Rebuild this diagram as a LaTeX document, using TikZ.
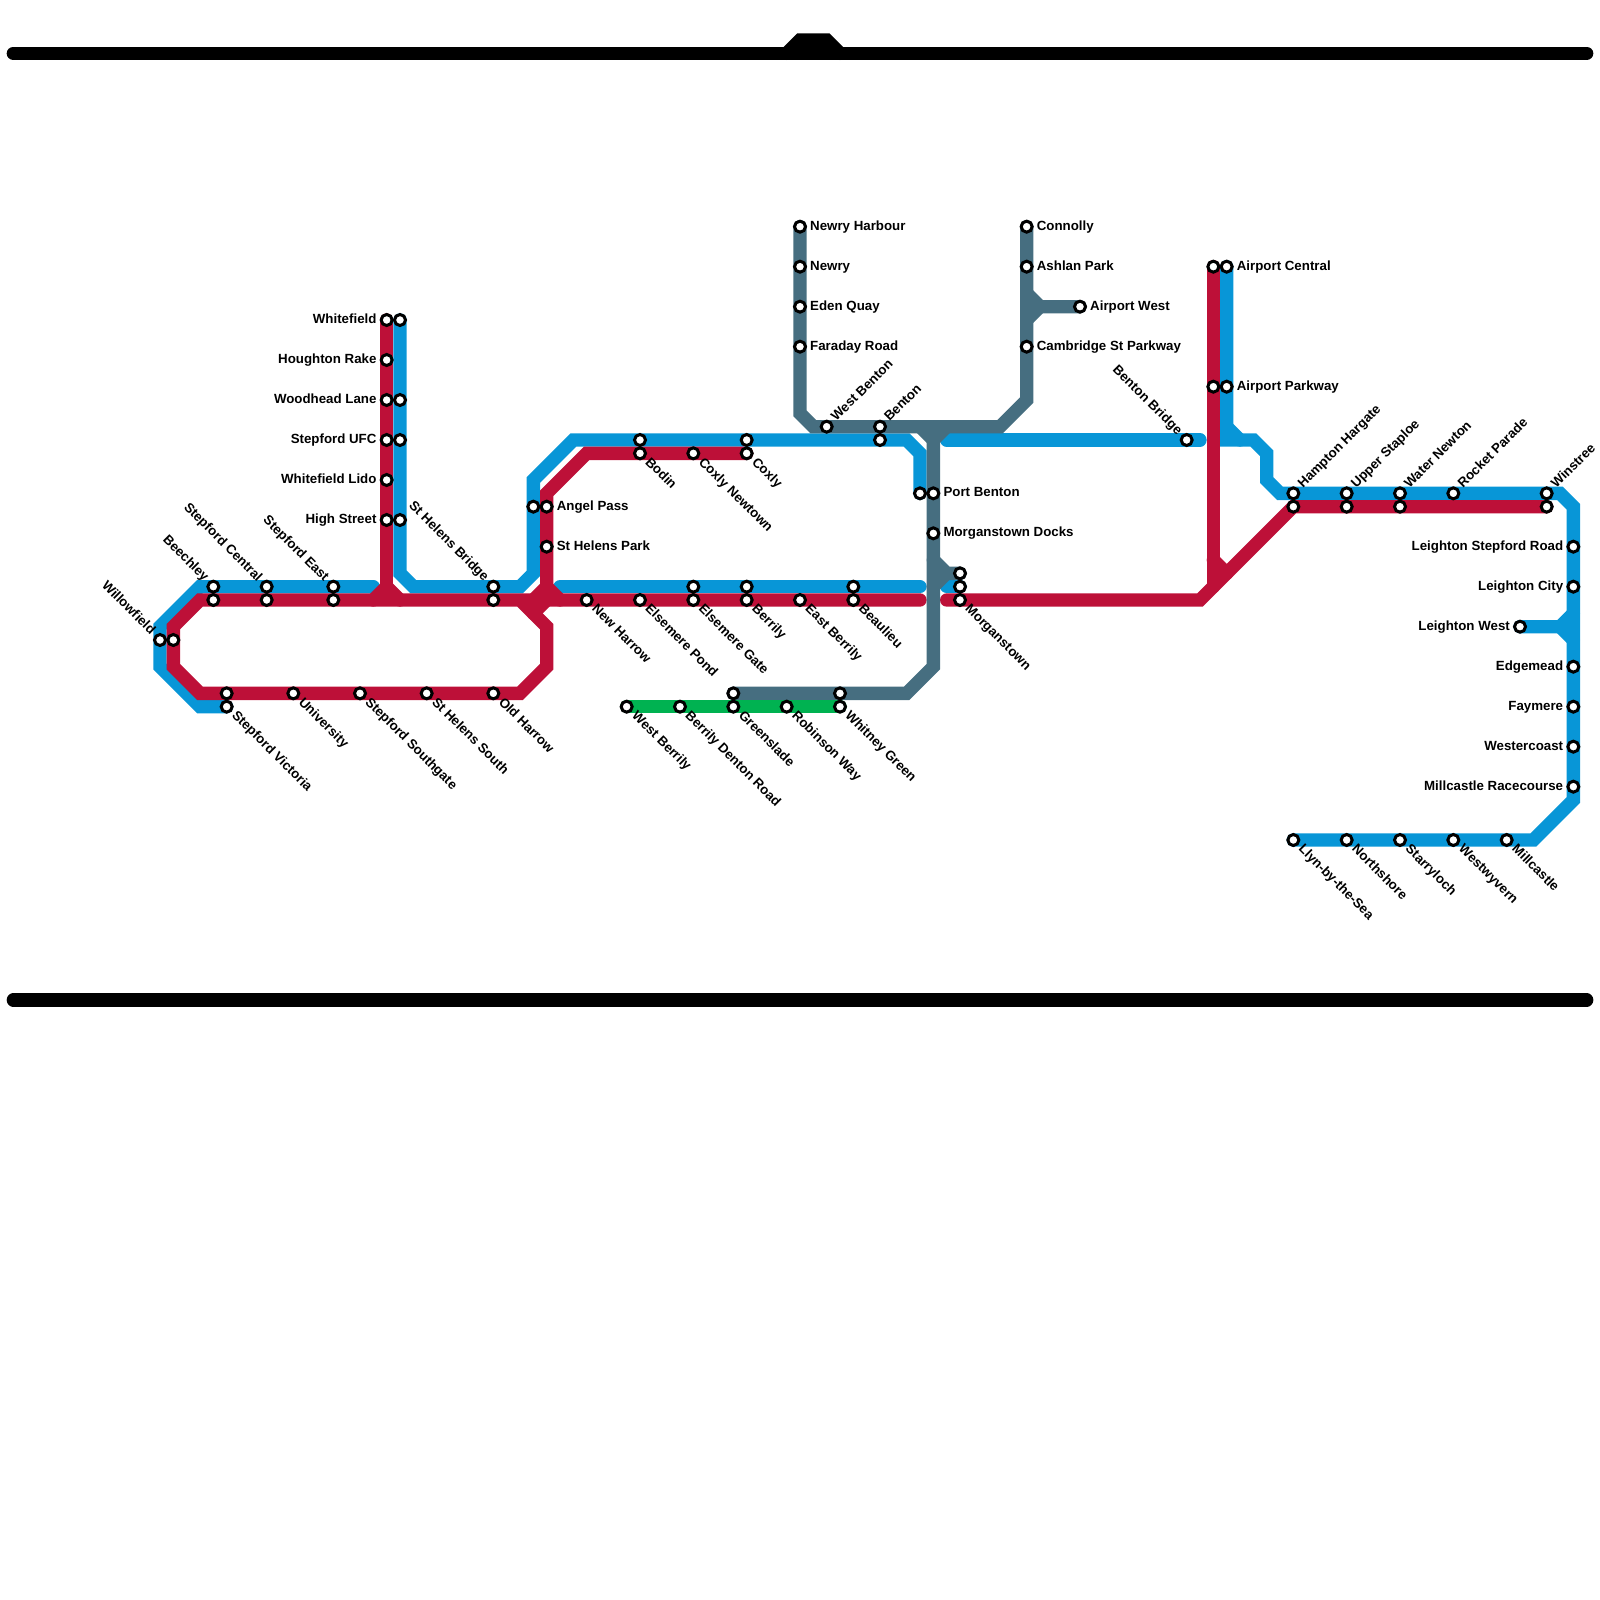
\documentclass[tikz,border=0pt]{standalone}
\usepackage{fontspec}
\setmainfont{Liberation Sans}
\usepackage{tikz}
\usetikzlibrary{backgrounds}
\definecolor{lineblue}{HTML}{0896D7}
\definecolor{linered}{HTML}{BD1038}
\definecolor{linegrey}{HTML}{466E80}
\definecolor{linegreen}{HTML}{00B251}
\tikzset{
  ln/.style={line width=13.333pt,line cap=round,line join=miter,miter limit=10},
  lnblue/.style={ln,lineblue},
  lnred/.style={ln,linered},
  lngrey/.style={ln,linegrey},
  lngreen/.style={ln,linegreen},
  lnbar/.style={ln,black},
  stn/.style={circle,draw=black,fill=white,line width=3pt,minimum size=11pt,inner sep=0pt,outer sep=0pt},
  lbl/.style={inner sep=0pt,text height=9.5pt,text depth=2.5pt,font=\fontsize{13.3}{14}\selectfont\bfseries},
  lble/.style={lbl,anchor=west,xshift=10pt},
  lblw/.style={lbl,anchor=east,xshift=-10pt},
  lblne/.style={lbl,anchor=west,rotate=45,xshift=10pt},
  lblse/.style={lbl,anchor=west,rotate=-45,xshift=10pt},
  lblnw/.style={lbl,anchor=east,rotate=-45,xshift=-10pt},
}
\begin{document}
\begin{tikzpicture}[x=13.3333pt,y=-13.3333pt]
  \useasboundingbox (0,0) rectangle (120,120);
  % stations, west
  \node[stn] (willowb) at (12,48) {}; \node[lblnw] (willowl) at (willowb) {Willowfield};
  \node[stn] (willowr) at (13,48) {};
  \node[stn] (beechb) at (16,44) {}; \node[lblnw] (beechl) at (beechb) {Beechley};
  \node[stn] (beechr) at (16,45) {};
  \node[stn] (centralb) at (20,44) {}; \node[lblnw] (centrall) at (centralb) {Stepford Central};
  \node[stn] (centralr) at (20,45) {};
  \node[stn] (eastb) at (25,44) {}; \node[lblnw] (eastl) at (eastb) {Stepford East};
  \node[stn] (eastr) at (25,45) {};
  \node[stn] (bridgeb) at (37,44) {}; \node[lblnw] (bridgel) at (bridgeb) {St Helens Bridge};
  \node[stn] (bridger) at (37,45) {};
  \node[stn] (victoriar) at (17,52) {};
  \node[stn] (victoriab) at (17,53) {}; \node[lblse] (victorial) at (victoriab) {Stepford Victoria};
  \node[stn] (univ) at (22,52) {}; \node[lblse] (univl) at (univ) {University};
  \node[stn] (southgate) at (27,52) {}; \node[lblse] (southgatel) at (southgate) {Stepford Southgate};
  \node[stn] (hsouth) at (32,52) {}; \node[lblse] (hsouthl) at (hsouth) {St Helens South};
  \node[stn] (oldharrow) at (37,52) {}; \node[lblse] (oldharrowl) at (oldharrow) {Old Harrow};
  % stations, north branch
  \node[stn] (whitefieldr) at (29,24) {}; \node[lblw] (whitefieldl) at (whitefieldr) {Whitefield};
  \node[stn] (whitefieldb) at (30,24) {};
  \node[stn] (houghton) at (29,27) {}; \node[lblw] (houghtonl) at (houghton) {Houghton Rake};
  \node[stn] (woodheadr) at (29,30) {}; \node[lblw] (woodheadl) at (woodheadr) {Woodhead Lane};
  \node[stn] (woodheadb) at (30,30) {};
  \node[stn] (ufcr) at (29,33) {}; \node[lblw] (ufcl) at (ufcr) {Stepford UFC};
  \node[stn] (ufcb) at (30,33) {};
  \node[stn] (lido) at (29,36) {}; \node[lblw] (lidol) at (lido) {Whitefield Lido};
  \node[stn] (highr) at (29,39) {}; \node[lblw] (highl) at (highr) {High Street};
  \node[stn] (highb) at (30,39) {};
  % stations, centre
  \node[stn] (angelb) at (40,38) {};
  \node[stn] (angelr) at (41,38) {}; \node[lble] (angell) at (angelr) {Angel Pass};
  \node[stn] (hpark) at (41,41) {}; \node[lble] (hparkl) at (hpark) {St Helens Park};
  \node[stn] (newharrow) at (44,45) {}; \node[lblse] (newharrowl) at (newharrow) {New Harrow};
  \node[stn] (pond) at (48,45) {}; \node[lblse] (pondl) at (pond) {Elsemere Pond};
  \node[stn] (gateb) at (52,44) {};
  \node[stn] (gater) at (52,45) {}; \node[lblse] (gatel) at (gater) {Elsemere Gate};
  \node[stn] (berrilyb) at (56,44) {};
  \node[stn] (berrilyr) at (56,45) {}; \node[lblse] (berrilyl) at (berrilyr) {Berrily};
  \node[stn] (eberrily) at (60,45) {}; \node[lblse] (eberrilyl) at (eberrily) {East Berrily};
  \node[stn] (beaulb) at (64,44) {};
  \node[stn] (beaulr) at (64,45) {}; \node[lblse] (beaull) at (beaulr) {Beaulieu};
  \node[stn] (bodinb) at (48,33) {};
  \node[stn] (bodinr) at (48,34) {}; \node[lblse] (bodinl) at (bodinr) {Bodin};
  \node[stn] (newtown) at (52,34) {}; \node[lblse] (newtownl) at (newtown) {Coxly Newtown};
  \node[stn] (coxlyb) at (56,33) {};
  \node[stn] (coxlyr) at (56,34) {}; \node[lblse] (coxlyl) at (coxlyr) {Coxly};
  \node[stn] (wberrily) at (47,53) {}; \node[lblse] (wberrilyl) at (wberrily) {West Berrily};
  \node[stn] (denton) at (51,53) {}; \node[lblse] (dentonl) at (denton) {Berrily Denton Road};
  \node[stn] (greensg) at (55,52) {};
  \node[stn] (greensn) at (55,53) {}; \node[lblse] (greensl) at (greensn) {Greenslade};
  \node[stn] (robinson) at (59,53) {}; \node[lblse] (robinsonl) at (robinson) {Robinson Way};
  \node[stn] (whitneyg) at (63,52) {};
  \node[stn] (whitneyn) at (63,53) {}; \node[lblse] (whitneyl) at (whitneyn) {Whitney Green};
  % stations, grey line
  \node[stn] (nharbour) at (60,17) {}; \node[lble] (nharbourl) at (nharbour) {Newry Harbour};
  \node[stn] (newry) at (60,20) {}; \node[lble] (newryl) at (newry) {Newry};
  \node[stn] (eden) at (60,23) {}; \node[lble] (edenl) at (eden) {Eden Quay};
  \node[stn] (faraday) at (60,26) {}; \node[lble] (faradayl) at (faraday) {Faraday Road};
  \node[stn] (wbenton) at (62,32) {}; \node[lblne] (wbentonl) at (wbenton) {West Benton};
  \node[stn] (bentong) at (66,32) {}; \node[lblne] (bentonl) at (bentong) {Benton};
  \node[stn] (bentonb) at (66,33) {};
  \node[stn] (connolly) at (77,17) {}; \node[lble] (connollyl) at (connolly) {Connolly};
  \node[stn] (ashlan) at (77,20) {}; \node[lble] (ashlanl) at (ashlan) {Ashlan Park};
  \node[stn] (awest) at (81,23) {}; \node[lble] (awestl) at (awest) {Airport West};
  \node[stn] (cambridge) at (77,26) {}; \node[lble] (cambridgel) at (cambridge) {Cambridge St Parkway};
  \node[stn] (portb) at (69,37) {};
  \node[stn] (portg) at (70,37) {}; \node[lble] (portl) at (portg) {Port Benton};
  \node[stn] (docks) at (70,40) {}; \node[lble] (docksl) at (docks) {Morganstown Docks};
  \node[stn] (morgang) at (72,43) {};
  \node[stn] (morganb) at (72,44) {};
  \node[stn] (morganr) at (72,45) {}; \node[lblse] (morganl) at (morganr) {Morganstown};
  % stations, east
  \node[stn] (bbridge) at (89,33) {}; \node[lblnw] (bbridgel) at (bbridge) {Benton Bridge};
  \node[stn] (acentralr) at (91,20) {};
  \node[stn] (acentralb) at (92,20) {}; \node[lble] (acentrall) at (acentralb) {Airport Central};
  \node[stn] (aparkr) at (91,29) {};
  \node[stn] (aparkb) at (92,29) {}; \node[lble] (aparkl) at (aparkb) {Airport Parkway};
  \node[stn] (hamptonb) at (97,37) {}; \node[lblne] (hamptonl) at (hamptonb) {Hampton Hargate};
  \node[stn] (hamptonr) at (97,38) {};
  \node[stn] (stapleb) at (101,37) {}; \node[lblne] (staplel) at (stapleb) {Upper Staploe};
  \node[stn] (stapler) at (101,38) {};
  \node[stn] (waterb) at (105,37) {}; \node[lblne] (waterl) at (waterb) {Water Newton};
  \node[stn] (waterr) at (105,38) {};
  \node[stn] (rocket) at (109,37) {}; \node[lblne] (rocketl) at (rocket) {Rocket Parade};
  \node[stn] (winstb) at (116,37) {}; \node[lblne] (winstl) at (winstb) {Winstree};
  \node[stn] (winstr) at (116,38) {};
  \node[stn] (lstep) at (118,41) {}; \node[lblw] (lstepl) at (lstep) {Leighton Stepford Road};
  \node[stn] (lcity) at (118,44) {}; \node[lblw] (lcityl) at (lcity) {Leighton City};
  \node[stn] (lwest) at (114,47) {}; \node[lblw] (lwestl) at (lwest) {Leighton West};
  \node[stn] (edge) at (118,50) {}; \node[lblw] (edgel) at (edge) {Edgemead};
  \node[stn] (faymere) at (118,53) {}; \node[lblw] (faymerel) at (faymere) {Faymere};
  \node[stn] (wcoast) at (118,56) {}; \node[lblw] (wcoastl) at (wcoast) {Westercoast};
  \node[stn] (course) at (118,59) {}; \node[lblw] (coursel) at (course) {Millcastle Racecourse};
  \node[stn] (llyn) at (97,63) {}; \node[lblse] (llynl) at (llyn) {Llyn-by-the-Sea};
  \node[stn] (north) at (101,63) {}; \node[lblse] (northl) at (north) {Northshore};
  \node[stn] (starry) at (105,63) {}; \node[lblse] (starryl) at (starry) {Starryloch};
  \node[stn] (wwyvern) at (109,63) {}; \node[lblse] (wwyvernl) at (wwyvern) {Westwyvern};
  \node[stn] (mill) at (113,63) {}; \node[lblse] (milll) at (mill) {Millcastle};
  \begin{scope}[on background layer]
    % frame bars
    \coordinate (ba) at (1,4); \coordinate (bb) at (59,4); \coordinate (bc) at (60,3);
    \coordinate (bd) at (62,3); \coordinate (be) at (63,4); \coordinate (bf) at (119,4);
    \coordinate (bg) at (1,75); \coordinate (bh) at (119,75);
    \draw[lnbar] (ba) -- (bf);
    \draw[lnbar,fill=black] (bb) -- (bc) -- (bd) -- (be);
    \draw[lnbar] (bg) -- (bh);
    % blue
    \coordinate (p1) at (28,44); \coordinate (p2) at (15,44); \coordinate (p3) at (12,47);
    \coordinate (p4) at (12,50); \coordinate (p5) at (15,53);
    \draw[lnblue] (p1) -- (p2) -- (p3) -- (p4) -- (p5) -- (victoriab.center);
    \coordinate (q1) at (30,43); \coordinate (q2) at (31,44); \coordinate (q3) at (39,44);
    \coordinate (q4) at (40,43); \coordinate (q5) at (40,36); \coordinate (q6) at (43,33);
    \coordinate (q7) at (68,33); \coordinate (q8) at (69,34);
    \draw[lnblue] (whitefieldb.center) -- (q1) -- (q2) -- (q3) -- (q4) -- (q5) -- (q6) -- (q7) -- (q8) -- (portb.center);
    \coordinate (s1) at (71,33); \coordinate (s2) at (90,33);
    \draw[lnblue] (s1) -- (s2);
    \coordinate (t1) at (92,33); \coordinate (t2) at (94,33); \coordinate (t3) at (95,34);
    \coordinate (t4) at (95,36); \coordinate (t5) at (96,37); \coordinate (t6) at (117,37);
    \coordinate (t7) at (118,38); \coordinate (t8) at (118,60); \coordinate (t9) at (115,63);
    \coordinate (t10) at (92,32); \coordinate (t11) at (93,33);
    \draw[lnblue] (acentralb.center) -- (t1) -- (t2) -- (t3) -- (t4) -- (t5) -- (t6) -- (t7) -- (t8) -- (t9) -- (llyn.center);
    \draw[lnblue] (t10) -- (t11);
    \coordinate (u1) at (117,47); \coordinate (u2) at (118,46); \coordinate (u3) at (118,48);
    \draw[lnblue] (lwest.center) -- (u1) -- (u2);
    \draw[lnblue] (u1) -- (u3);
    \coordinate (v1) at (42,44); \coordinate (v2) at (69,44);
    \draw[lnblue] (v1) -- (v2);
    \coordinate (w1) at (71,44);
    \draw[lnblue] (w1) -- (morganb.center);
    % red
    \coordinate (r1) at (29,44); \coordinate (r2) at (28,45); \coordinate (r3) at (30,45);
    \draw[lnred] (whitefieldr.center) -- (r1);
    \draw[lnred] (r2) -- (r1) -- (r3);
    \coordinate (m1) at (69,45); \coordinate (m2) at (15,45); \coordinate (m3) at (13,47);
    \coordinate (m4) at (13,50); \coordinate (m5) at (15,52); \coordinate (m6) at (39,52);
    \coordinate (m7) at (41,50); \coordinate (m8) at (41,47); \coordinate (m9) at (39,45);
    \draw[lnred] (m1) -- (m2) -- (m3) -- (m4) -- (m5) -- (m6) -- (m7) -- (m8) -- (m9);
    \coordinate (n1) at (44,34); \coordinate (n2) at (41,37); \coordinate (n3) at (41,44);
    \coordinate (n4) at (40,45); \coordinate (n5) at (42,45); \coordinate (n6) at (41,45);
    \coordinate (n7) at (40,46);
    \draw[lnred] (coxlyr.center) -- (n1) -- (n2) -- (n3);
    \draw[lnred] (n4) -- (n3) -- (n5);
    \draw[lnred] (n6) -- (n7);
    \coordinate (o1) at (71,45); \coordinate (o2) at (90,45);
    \draw[lnred] (o1) -- (o2) -- (hamptonr.center) -- (winstr.center);
    \coordinate (o3) at (91,44); \coordinate (o4) at (91,42); \coordinate (o5) at (92,43);
    \draw[lnred] (acentralr.center) -- (o3);
    \draw[lnred] (o4) -- (o5);
    % grey
    \coordinate (g1) at (60,31); \coordinate (g2) at (61,32); \coordinate (g3) at (75,32);
    \coordinate (g4) at (77,30);
    \draw[lngrey] (nharbour.center) -- (g1) -- (g2) -- (g3) -- (g4) -- (connolly.center);
    \coordinate (h1) at (77,22); \coordinate (h2) at (78,23); \coordinate (h3) at (77,24);
    \draw[lngrey] (h1) -- (h2) -- (awest.center);
    \draw[lngrey] (h3) -- (h2);
    \coordinate (i1) at (69,32); \coordinate (i2) at (70,33); \coordinate (i3) at (71,32);
    \coordinate (i4) at (70,32); \coordinate (i5) at (70,50); \coordinate (i6) at (68,52);
    \draw[lngrey] (i1) -- (i2) -- (i3);
    \draw[lngrey] (i4) -- (i5) -- (i6) -- (greensg.center);
    \coordinate (j1) at (70,42); \coordinate (j2) at (71,43); \coordinate (j3) at (70,44);
    \draw[lngrey] (j1) -- (j2) -- (morgang.center);
    \draw[lngrey] (j3) -- (j2);
    % green
    \draw[lngreen] (wberrily.center) -- (whitneyn.center);
  \end{scope}
\end{tikzpicture}
\end{document}
